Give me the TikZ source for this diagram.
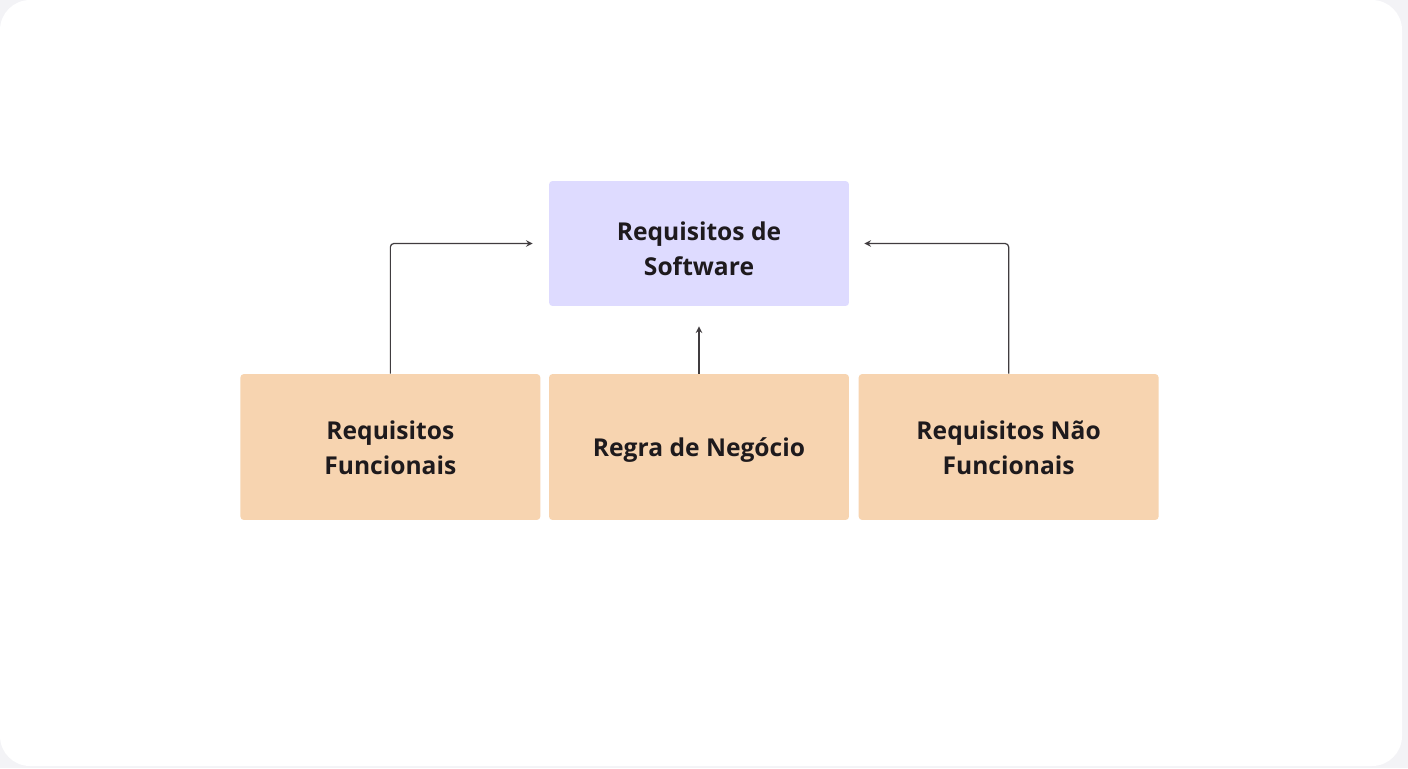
\documentclass[tikz,border=0pt]{standalone}
\usepackage{fontspec}
\setmainfont{Open Sans}
\usepackage{xcolor}
\usetikzlibrary{arrows,positioning}
\definecolor{lavender}{HTML}{DEDBFF}
\definecolor{peach}{HTML}{F7D4B0}
\definecolor{inkdark}{HTML}{1E1A1D}
\definecolor{framegray}{HTML}{F3F3F6}

\begin{document}
\begin{tikzpicture}[
x=0.02cm,y=-0.02cm,
font=\bfseries\fontsize{14}{20}\selectfont,
box/.style={rounded corners=2pt,minimum width=6cm,align=center,text=inkdark,inner sep=0pt,text depth=0pt},
boxtext/.style={align=center,text=inkdark,inner sep=0pt,yshift=-0.6pt},
oneway/.style={->,>=stealth,line width=0.7pt,draw=inkdark!85,rounded corners=2pt}]
    % Draw background
    \fill[framegray] (0,0) rectangle (1408,768);
    \fill[white,rounded corners=0.6cm] (0,0) rectangle (1402,766);
    \useasboundingbox (0,0) rectangle (1408,768);

    % Nodes
    \node[box,fill=lavender,minimum height=2.5cm,
        label={[boxtext,yshift=-2.2pt]center:Requisitos de\\Software}] (software) at (699,243.5) {};
    \node[box,fill=peach,minimum height=2.92cm] (regra) at (699,447) {Regra de Negócio};
    \node[box,fill=peach,minimum height=2.92cm,left=0.16cm of regra,
        label={[boxtext]center:Requisitos\\Funcionais}] (funcionais) {};
    \node[box,fill=peach,minimum height=2.92cm,right=0.18cm of regra,
        label={[boxtext]center:Requisitos Não\\Funcionais}] (naofuncionais) {};

    % Arrows
    \draw[oneway,shorten >=0.32cm] (funcionais.north) |- (software.west);
    \draw[oneway,shorten >=0.4cm] (regra.north) -- (software.south);
    \draw[oneway,shorten >=0.3cm] (naofuncionais.north) |- (software.east);
\end{tikzpicture}
\end{document}
